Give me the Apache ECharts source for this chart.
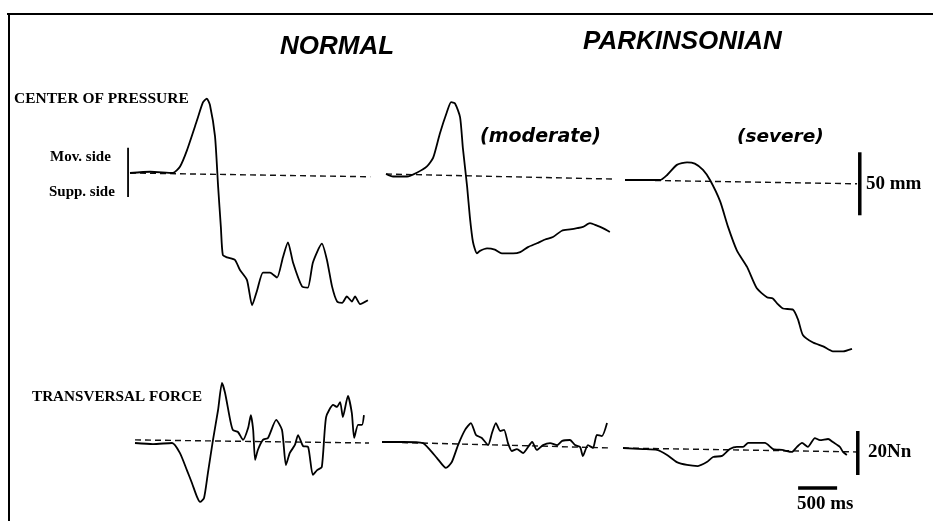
<!DOCTYPE html>
<html>
<head>
<meta charset="utf-8">
<script src="https://cdn.jsdelivr.net/npm/echarts@6/dist/echarts.min.js"></script>
<style>
  html, body { margin: 0; background: #fff; }
  #chart { width: 933px; height: 521px; }
</style>
</head>
<body>
<div id="chart"></div>
<script>
// time in ms, centre of pressure in mm (+ = moving side), transversal force in N
const copNormal = [[0,0],[260,1],[550,0],[640,5],[730,18],[860,42],[935,56],[985,59],[1025,54],[1090,29],[1130,-11],[1165,-43],[1190,-65],[1245,-67],[1345,-69],[1410,-77],[1500,-85],[1565,-105],[1630,-93],[1705,-79],[1795,-79],[1885,-83],[1960,-67],[2025,-55],[2090,-71],[2205,-90],[2280,-91],[2345,-71],[2460,-56],[2525,-69],[2590,-90],[2655,-102],[2720,-103],[2780,-98],[2845,-102],[2885,-98],[2950,-104],[3050,-101]];
const copModerate = [[0,0],[90,-2],[270,-2],[395,1],[525,6],[605,13],[690,32],[780,49],[835,57],[885,56],[950,45],[985,21],[1040,-10],[1075,-34],[1115,-54],[1165,-63],[1205,-61],[1295,-59],[1395,-60],[1485,-63],[1565,-63],[1630,-63],[1720,-62],[1820,-58],[1935,-55],[2040,-52],[2140,-50],[2255,-45],[2360,-44],[2450,-43],[2525,-42],[2615,-39],[2705,-41],[2780,-43],[2870,-46]];
const copSevere = [[0,0],[450,0],[540,4],[665,12],[795,14],[895,13],[1000,8],[1090,0],[1220,-17],[1320,-37],[1435,-56],[1565,-69],[1690,-86],[1820,-93],[1895,-94],[1950,-98],[2025,-102],[2155,-103],[2220,-111],[2280,-123],[2410,-129],[2540,-132],[2665,-136],[2795,-136],[2910,-134]];

const forceNormal = [[0,0],[230,-0.5],[475,0],[575,-4.5],[665,-12.3],[730,-18.2],[795,-24.5],[835,-26.8],[885,-25],[935,-13.6],[1000,1.4],[1065,15],[1115,27.3],[1155,22.7],[1220,10.5],[1255,5.9],[1320,5],[1385,1.4],[1450,6.8],[1485,12.7],[1515,5.9],[1540,-7.7],[1575,-3.2],[1640,1.4],[1705,2.3],[1810,10.5],[1885,5.9],[1935,-10],[1985,-4.5],[2050,-0.9],[2090,3.6],[2155,-1.4],[2220,-1.8],[2280,-14.5],[2335,-12.3],[2395,-10.9],[2450,11.8],[2540,17.3],[2590,16.4],[2630,18.6],[2665,11.8],[2730,21.4],[2780,13.6],[2810,2.3],[2860,8.2],[2910,8.2],[2935,12.7]];
const forceModerate = [[0,0],[270,0],[525,-0.5],[615,-3.6],[705,-7.3],[820,-11.8],[895,-9.1],[975,-1.4],[1065,5.5],[1140,8.6],[1205,3.2],[1280,1.8],[1360,-1.4],[1410,4.1],[1460,8.6],[1515,5],[1565,5.5],[1615,-0.5],[1665,-4.1],[1730,-3.2],[1810,-5],[1925,0],[1985,-3.6],[2065,-1.4],[2155,-0.5],[2245,-1.4],[2310,0.5],[2410,0.9],[2475,-1.4],[2540,-2.3],[2575,-6.4],[2640,-1.4],[2705,-2.7],[2755,3.2],[2820,2.7],[2885,8.6]];
const forceSevere = [[0,0],[255,-0.5],[435,-0.9],[565,-3.2],[690,-6.4],[820,-7.7],[960,-8.2],[1075,-6.4],[1155,-4.1],[1270,-3.6],[1370,-0.5],[1460,0.5],[1540,0.5],[1605,2.3],[1720,2.3],[1820,2.3],[1925,-0.5],[2040,-0.9],[2165,-1.8],[2230,0.5],[2295,2.3],[2370,0.5],[2460,4.5],[2525,3.6],[2630,4.1],[2690,2.7],[2780,0.5],[2820,-1.8],[2870,-3.2]];

// dashed reference lines (start, end)
const baseCopNormal = [[0,0],[3080,-3]];
const baseCopModerate = [[0,0],[2900,-4]];
const baseCopSevere = [[0,0],[2975,-3]];
const baseForceNormal = [[0,1.4],[3000,0]];
const baseForceModerate = [[0,0],[2930,-2.7]];
const baseForceSevere = [[0,0],[3000,-1.8]];

// calibration bars
const scaleMm = 50;
const scaleN = 20;
const scaleMs = 500;

// pixels per unit of the original figure
const PX_MS = 39 / 500;
const PX_MM = 63 / 50;
const PX_N = 44 / 20;

const myChart = echarts.init(document.getElementById('chart'));

const grids = [], xAxes = [], yAxes = [], series = [];

function panel(x0, y0, k, vMin, vMax, trace, base) {
  const i = grids.length;
  const tMin = -100, tMax = 3200;
  grids.push({
    left: x0 + tMin * PX_MS,
    top: y0 - vMax * k,
    width: (tMax - tMin) * PX_MS,
    height: (vMax - vMin) * k
  });
  xAxes.push({ gridIndex: i, type: 'value', min: tMin, max: tMax, show: false });
  yAxes.push({ gridIndex: i, type: 'value', min: vMin, max: vMax, show: false });
  series.push({
    type: 'line', xAxisIndex: i, yAxisIndex: i, data: base,
    showSymbol: false, silent: true, clip: false,
    lineStyle: { color: '#111', width: 1.4, type: [6, 4] }
  });
  series.push({
    type: 'line', xAxisIndex: i, yAxisIndex: i, data: trace,
    showSymbol: false, silent: true, clip: false, smooth: 0.2,
    lineStyle: { color: '#000', width: 1.8 }
  });
  return i;
}

function bar(i, data, width) {
  series.push({
    type: 'line', xAxisIndex: i, yAxisIndex: i, data: data,
    showSymbol: false, silent: true, clip: false,
    lineStyle: { color: '#000', width: width, cap: 'butt' }
  });
}

// center of pressure
const pCopN = panel(130, 173, PX_MM, -145, 65, copNormal, baseCopNormal);
panel(386, 174, PX_MM, -145, 65, copModerate, baseCopModerate);
const pCopS = panel(625, 180, PX_MM, -145, 65, copSevere, baseCopSevere);
// transversal force
panel(135, 443, PX_N, -30, 30, forceNormal, baseForceNormal);
panel(382, 442, PX_N, -30, 30, forceModerate, baseForceModerate);
const pForceS = panel(623, 448, PX_N, -30, 30, forceSevere, baseForceSevere);

// moving / supporting side marker
bar(pCopN, [[-25, 20], [-25, -19]], 1.8);
// 50 mm, 20 N, 500 ms
bar(pCopS, [[3010, 22], [3010, 22 - scaleMm]], 3.5);
bar(pForceS, [[3010, 7.7], [3010, 7.7 - scaleN]], 3.5);
bar(pForceS, [[2245, -18.2], [2245 + scaleMs, -18.2]], 3.5);

const serif = '"Liberation Serif", "DejaVu Serif", serif';
const sans = '"Liberation Sans", Arial, sans-serif';
function label(text, x, y, size, family, style, align) {
  return {
    type: 'text', x: x, y: y, silent: true,
    style: {
      text: text, fill: '#000', fontSize: size, fontFamily: family,
      fontWeight: 'bold', fontStyle: style || 'normal',
      textAlign: align || 'left', textVerticalAlign: 'middle'
    }
  };
}

let option = {
  backgroundColor: '#fff',
  animation: false,
  grid: grids,
  xAxis: xAxes,
  yAxis: yAxes,
  series: series,
  graphic: [
    // frame
    { type: 'line', silent: true, shape: { x1: 7, y1: 14, x2: 933, y2: 14 }, style: { stroke: '#000', lineWidth: 2 } },
    { type: 'line', silent: true, shape: { x1: 9, y1: 13, x2: 9, y2: 521 }, style: { stroke: '#000', lineWidth: 2 } },
    label('NORMAL', 280, 47, 26, sans, 'italic'),
    label('PARKINSONIAN', 583, 42, 26, sans, 'italic'),
    label('(moderate)', 480, 137, 19, '"DejaVu Sans", sans-serif', 'italic'),
    label('(severe)', 737, 137, 18.5, '"DejaVu Sans", sans-serif', 'italic'),
    label('CENTER OF PRESSURE', 14, 99, 15.5, serif),
    label('Mov. side', 50, 157, 15, serif),
    label('Supp. side', 49, 192, 15, serif),
    label('TRANSVERSAL FORCE', 32, 397, 15.2, serif),
    label('50 mm', 866, 184, 19, serif),
    label('20Nn', 868, 452, 19, serif),
    label('500 ms', 797, 504, 19, serif)
  ]
};

myChart.setOption(option);
window.addEventListener('resize', myChart.resize);
</script>
</body>
</html>
